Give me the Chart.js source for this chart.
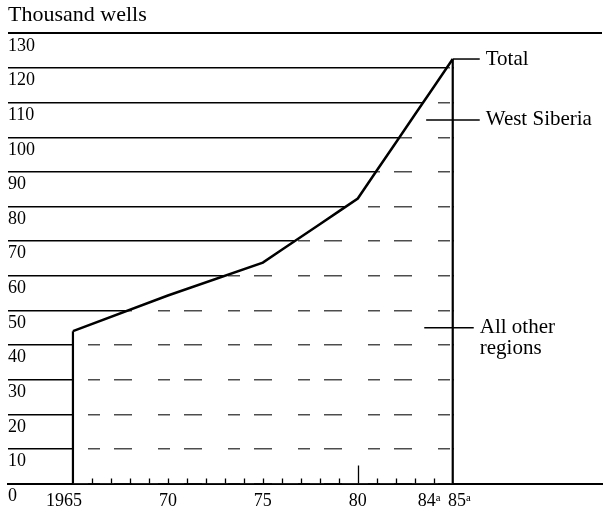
<!DOCTYPE html>
<html>
<head>
<meta charset="utf-8">
<script src="https://cdn.jsdelivr.net/npm/chart.js@4.4.1/dist/chart.umd.min.js"></script>
<style>
  html, body { margin: 0; padding: 0; background: #fff; }
  #wrap { width: 606px; height: 512px; }
</style>
</head>
<body>
<div id="wrap"><canvas id="graficoPocos"></canvas></div>
<script>
var anos = [1965, 1970, 1975, 1976, 1977, 1978, 1979, 1980, 1981, 1982, 1983, 1984, 1985];
var totalPocos = [44, 54.3, 63.8, 67.5, 71.2, 74.9, 78.6, 82.3, 90.4, 98.4, 106.5, 114.5, 122.6];

var anosTicks = [1965, 1970, 1975, 1980, 1984, 1985];
var rotulosTicks = ["1965    ", "70", "75", "80", "84ᵃ  ", "   85ᵃ"];
var anosMarcas = [1966, 1967, 1968, 1969, 1970, 1971, 1972, 1973, 1974, 1975,
                  1976, 1977, 1978, 1979, 1980, 1981, 1982, 1983, 1984];
var anosMarcasLongas = [1980];

var rotulosSeries = [["Total"], ["West Siberia"], ["All other", "regions"]];
var valoresRotulos = [122.6, 105, 45];
var anosInicioGuia = [1985, 1983.6, 1983.5];
var fimGuia = [27, 27, 21];

var fonte = "'Liberation Serif', 'Times New Roman', serif";

function criarPadrao() {
    var c = document.createElement("canvas");
    c.width = 70; c.height = 4;
    var g = c.getContext("2d");
    g.fillStyle = "#fff";
    g.fillRect(0, 0, 70, 4);
    g.clearRect(18, 0, 12, 4);
    g.clearRect(44, 0, 18, 4);
    g.fillStyle = "rgba(255,255,255,0.3)";
    g.fillRect(18, 0, 12, 4);
    g.fillRect(44, 0, 18, 4);
    return g.createPattern(c, "repeat");
}

var decoracoes = {
    id: "decoracoes",
    beforeDatasetsDraw: function (chart) {
        var ctx = chart.ctx, x = chart.scales.x, y = chart.scales.y, area = chart.chartArea;
        var xFim = x.getPixelForValue(anos[anos.length - 1]);
        var yTopo = y.getPixelForValue(y.max), yBase = y.getPixelForValue(0);
        ctx.save();
        ctx.fillStyle = "#fff";
        ctx.fillRect(xFim + 1, yTopo + 1.5, area.right - xFim, yBase - yTopo - 3);
        ctx.restore();
    },
    afterDatasetsDraw: function (chart) {
        var ctx = chart.ctx, x = chart.scales.x, y = chart.scales.y;
        var yBase = y.getPixelForValue(0);
        var xIni = x.getPixelForValue(anos[0]);
        var xFim = x.getPixelForValue(anos[anos.length - 1]);
        ctx.save();
        ctx.strokeStyle = "#000";
        ctx.lineWidth = 2.2;
        ctx.beginPath();
        ctx.moveTo(xIni, yBase);
        ctx.lineTo(xIni, y.getPixelForValue(totalPocos[0]));
        ctx.moveTo(xFim, yBase);
        ctx.lineTo(xFim, y.getPixelForValue(totalPocos[totalPocos.length - 1]));
        ctx.stroke();

        // marcas dos anos sobre o eixo
        ctx.lineWidth = 1.3;
        ctx.beginPath();
        anosMarcas.forEach(function (a) {
            var px = Math.round(x.getPixelForValue(a)) + 0.5;
            var alt = anosMarcasLongas.indexOf(a) >= 0 ? 18 : 5;
            ctx.moveTo(px, yBase);
            ctx.lineTo(px, yBase - alt);
        });
        ctx.stroke();

        // rotulos das series
        ctx.font = "21px " + fonte;
        ctx.fillStyle = "#000";
        ctx.textBaseline = "middle";
        ctx.textAlign = "left";
        ctx.lineWidth = 1.5;
        rotulosSeries.forEach(function (linhas, i) {
            var py = y.getPixelForValue(valoresRotulos[i]);
            ctx.beginPath();
            ctx.moveTo(x.getPixelForValue(anosInicioGuia[i]), py);
            ctx.lineTo(xFim + fimGuia[i], py);
            ctx.stroke();
            linhas.forEach(function (t, j) {
                ctx.fillText(t, xFim + fimGuia[i] + 6, py + j * 21);
            });
        });
        ctx.restore();
    }
};

document.addEventListener("DOMContentLoaded", function () {
    var ctx = document.getElementById("graficoPocos");

    if (ctx) {
        ctx = ctx.getContext("2d");

        new Chart(ctx, {
            type: "line",
            data: {
                datasets: [{
                    label: "Total",
                    data: anos.map(function (a, i) { return { x: a, y: totalPocos[i] }; }),
                    borderColor: "#000",
                    borderWidth: 2.5,
                    backgroundColor: criarPadrao(),
                    fill: "origin",
                    pointRadius: 0,
                    tension: 0
                }]
            },
            options: {
                responsive: true,
                maintainAspectRatio: false,
                animation: false,
                layout: {
                    padding: { left: 8, right: 4, top: 0, bottom: -6 }
                },
                plugins: {
                    legend: { display: false },
                    tooltip: { enabled: false },
                    title: {
                        display: true,
                        text: "Thousand wells",
                        align: "start",
                        color: "#000",
                        font: { family: fonte, size: 22, weight: "normal" },
                        padding: { top: 2, bottom: 5 }
                    }
                },
                scales: {
                    x: {
                        type: "linear",
                        min: 1961.58,
                        max: 1992.86,
                        z: 1,
                        grid: { display: false, drawTicks: false },
                        border: { display: true, color: "#000", width: 2 },
                        afterBuildTicks: function (scale) {
                            scale.ticks = anosTicks.map(function (v) { return { value: v }; });
                        },
                        ticks: {
                            autoSkip: false,
                            maxRotation: 0,
                            padding: 13,
                            color: "#000",
                            font: { family: fonte, size: 18, lineHeight: 0.47 },
                            callback: function (v, i) { return rotulosTicks[i]; }
                        }
                    },
                    y: {
                        min: 0,
                        max: 130,
                        border: { display: false },
                        grid: {
                            color: "#000",
                            drawTicks: false,
                            lineWidth: function (c) {
                                return (c.tick && (c.tick.value === 0 || c.tick.value === 130)) ? 2 : 1.5;
                            }
                        },
                        ticks: {
                            stepSize: 10,
                            mirror: true,
                            padding: 0,
                            labelOffset: 12.5,
                            color: "#000",
                            font: { family: fonte, size: 18 }
                        }
                    }
                }
            },
            plugins: [decoracoes]
        });
    } else {
        console.error("Elemento canvas não encontrado.");
    }
});
</script>
</body>
</html>
